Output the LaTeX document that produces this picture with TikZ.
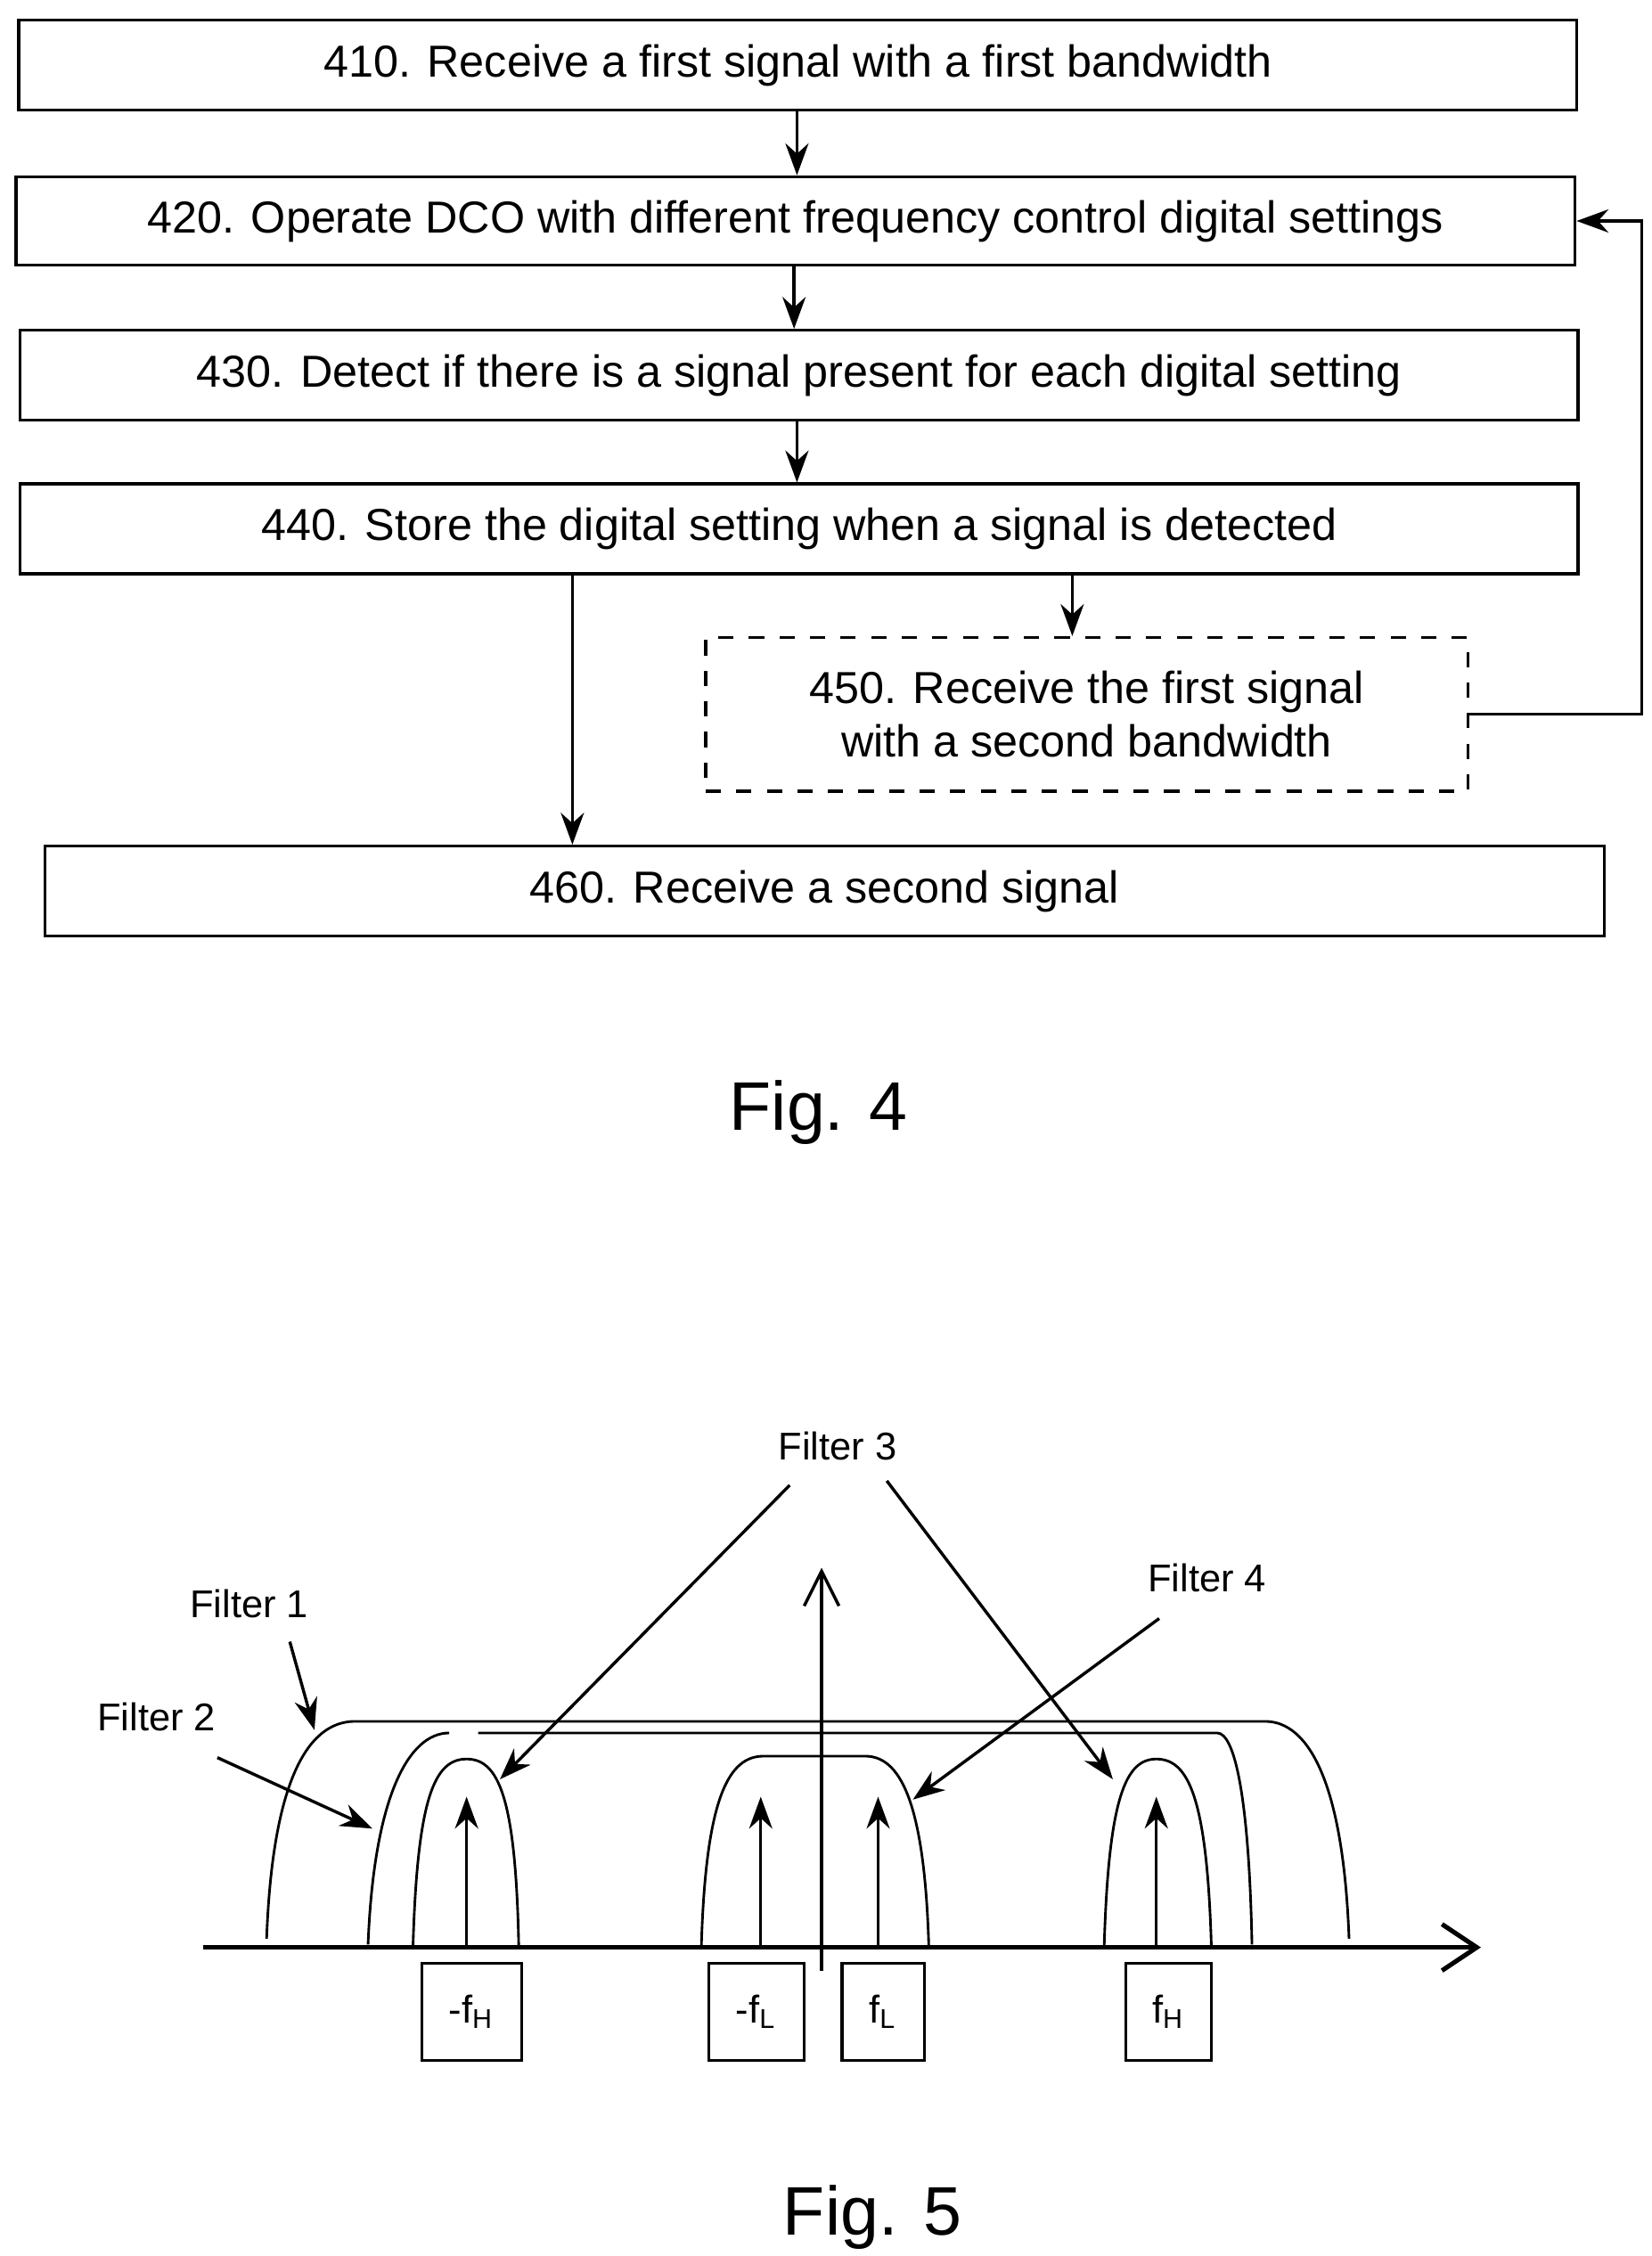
\documentclass[tikz,border=0pt]{standalone}
\usepackage{fontspec}
\setmainfont{Liberation Sans}
\usetikzlibrary{arrows.meta}
\begin{document}
\begin{tikzpicture}[x=0.1mm,y=-0.1mm,line width=0.6pt,
  box/.style={draw,rectangle,inner sep=0pt,font=\fontsize{8.8}{10.5}\selectfont,align=center},
  arr/.style={-{Stealth[length=2.2mm,width=1.6mm]}},
  lab/.style={font=\fontsize{7.6}{9}\selectfont},
  fbox/.style={draw,rectangle,minimum width=6.4mm,minimum height=6.7mm,inner sep=0pt,font=\fontsize{7.6}{9}\selectfont},
  curve/.style={line width=0.5pt}]
\useasboundingbox (0,0) rectangle (1140,1557);
\node[box,minimum width=107.5mm,minimum height=6.2mm] (n410) at (550.5,45) {410. Receive a first signal with a first bandwidth};
\node[box,minimum width=107.6mm,minimum height=6.1mm] (n420) at (549,152.5) {420. Operate DCO with different frequency control digital settings};
\node[box,minimum width=107.5mm,minimum height=6.2mm] (n430) at (551.5,259) {430. Detect if there is a signal present for each digital setting};
\node[box,minimum width=107.5mm,minimum height=6.2mm] (n440) at (551.5,365) {440. Store the digital setting when a signal is detected};
\node[box,dashed,minimum width=52.6mm,minimum height=10.6mm] (n450) at (750,493) {450. Receive the first signal\\with a second bandwidth};
\node[box,minimum width=107.6mm,minimum height=6.2mm] (n460) at (569,615) {460. Receive a second signal};
\draw[arr] (n410.south -| 550,0) -- (n420.north -| 550,0);
\draw[arr] (n420.south -| 548,0) -- (n430.north -| 548,0);
\draw[arr] (n430.south -| 550,0) -- (n440.north -| 550,0);
\draw[arr] (n440.south -| 740,0) -- (n450.north -| 740,0);
\draw[arr] (n440.south -| 395,0) -- (n460.north -| 395,0);
\draw[arr] (n450.east) -- (1133,493) |- (n420.east);
\node[font=\fontsize{13.5}{16}\selectfont] (f4) at (565,768) {Fig. 4};

% Fig 5
\coordinate (ax0) at (140,1344); \coordinate (ax1) at (1022,1344);
\draw[line width=0.9pt,-{Straight Barb[length=2.4mm,width=3.2mm]}] (ax0) -- (ax1);
\coordinate (ay0) at (567,1360); \coordinate (ay1) at (567,1082);
\draw[-{Straight Barb[length=2.4mm,width=2.4mm]}] (ay0) -- (ay1);
% filter 1
\draw[curve] (184,1338) .. controls (188,1230) and (212,1188) .. (245,1188) -- (873,1188) .. controls (903,1188) and (927,1230) .. (931,1338);
% filter 2
\draw[curve] (254,1342) .. controls (258,1240) and (282,1196) .. (310,1196);
\draw[curve] (330,1196) -- (840,1196) .. controls (852,1196) and (862,1240) .. (864,1342);
% filter 3
\draw[curve] (285,1344) .. controls (288,1240) and (300,1214) .. (322,1214) .. controls (344,1214) and (356,1240) .. (358,1344);
\draw[curve] (762,1344) .. controls (765,1240) and (777,1214) .. (798,1214) .. controls (820,1214) and (833,1240) .. (836,1344);
% filter 4
\draw[curve] (484,1344) .. controls (487,1240) and (503,1212) .. (527,1212) -- (597,1212) .. controls (620,1212) and (638,1240) .. (641,1344);
% impulses
\foreach \x/\n in {322/a,525/b,606/c,798/d}{
  \coordinate (i\n0) at (\x,1344); \coordinate (i\n1) at (\x,1240);
  \draw[arr] (i\n0) -- (i\n1);}
% labels
\node[fbox,minimum width=6.9mm] (b1) at (325.5,1388.5) {-f\textsubscript{H}};
\node[fbox,minimum width=6.6mm] (b2) at (522,1388.5) {-f\textsubscript{L}};
\node[fbox,minimum width=5.7mm] (b3) at (609.5,1388.5) {f\textsubscript{L}};
\node[fbox,minimum width=5.9mm] (b4) at (806.5,1388.5) {f\textsubscript{H}};
\node[lab] (F3) at (578,998) {Filter 3};
\node[lab] (F4) at (833,1089) {Filter 4};
\node[lab] (F1) at (172,1107) {Filter 1};
\node[lab] (F2) at (108,1185) {Filter 2};
\coordinate (t3a) at (345,1228); \coordinate (t3b) at (768,1228);
\coordinate (t4) at (630,1242); \coordinate (t1) at (217,1194); \coordinate (t2) at (257,1262);
\draw[arr] (545,1025) -- (t3a);
\draw[arr] (612,1022) -- (t3b);
\draw[arr] (800,1117) -- (t4);
\draw[arr] (200,1133) -- (t1);
\draw[arr] (150,1213) -- (t2);
\node[font=\fontsize{13.5}{16}\selectfont] (f5) at (602,1530) {Fig. 5};
\end{tikzpicture}
\end{document}
